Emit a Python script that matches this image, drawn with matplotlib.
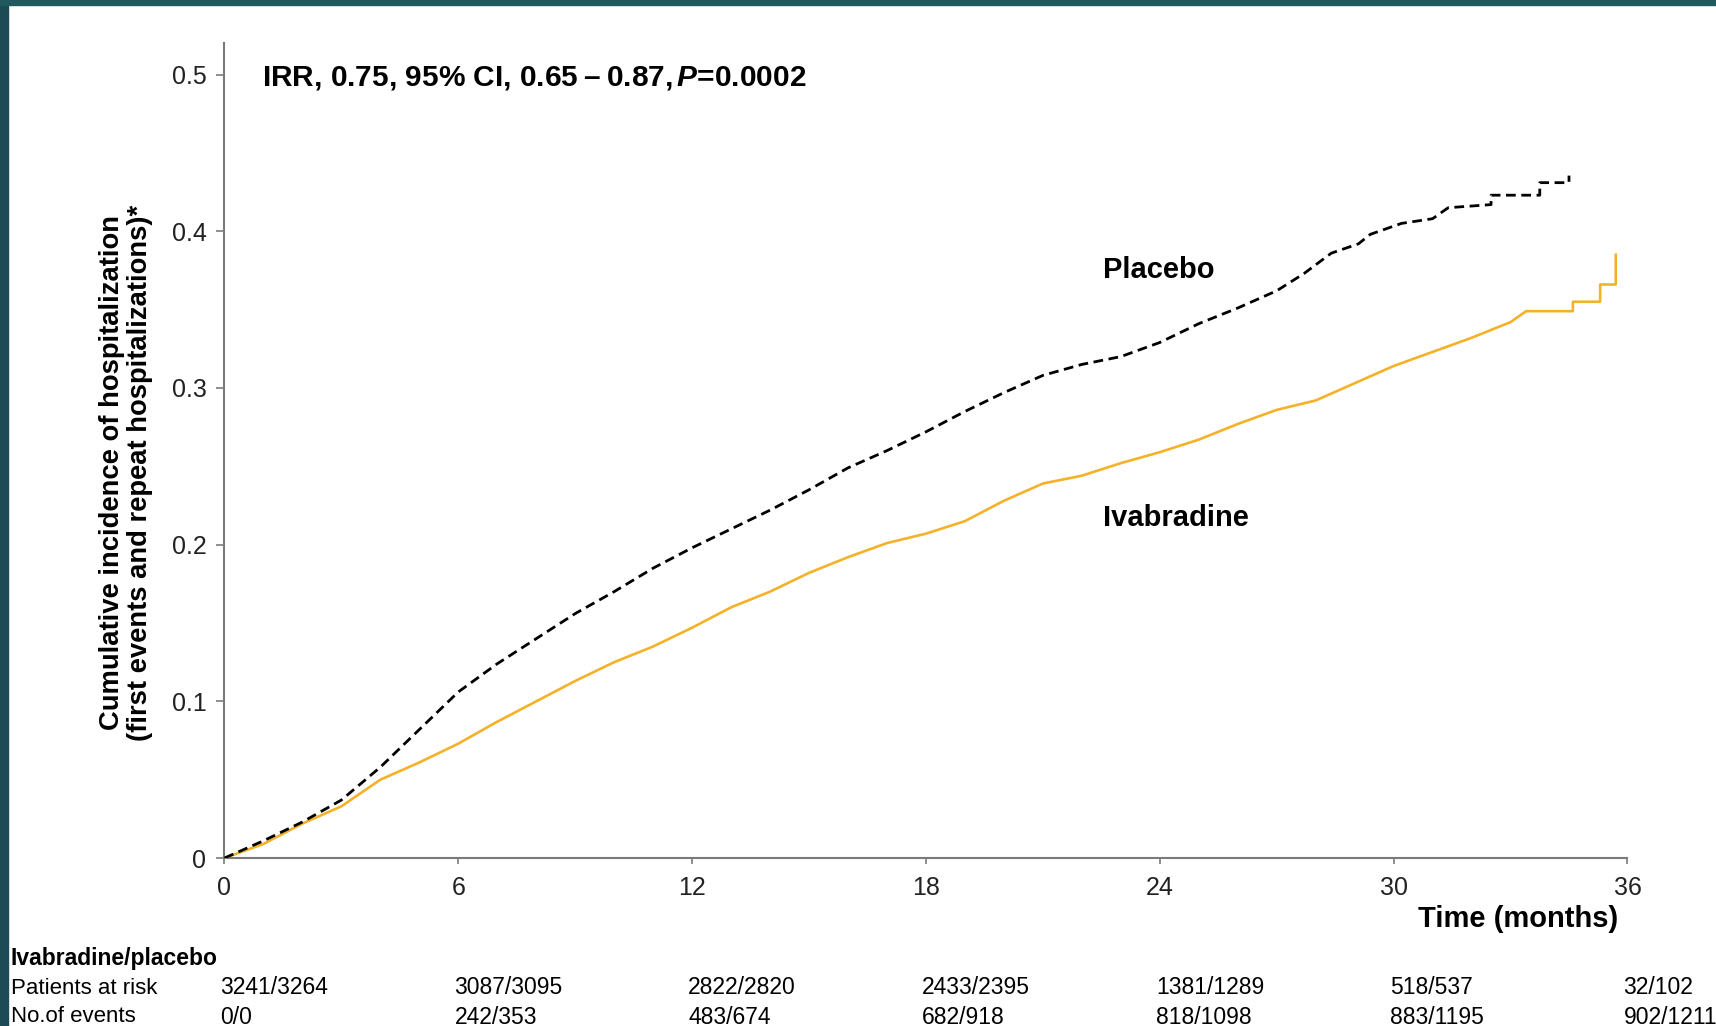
"""Cumulative incidence of hospitalization: ivabradine vs placebo"""

import matplotlib.pyplot as plt
from matplotlib.patches import Rectangle
from matplotlib.transforms import blended_transform_factory

plt.rcParams["font.family"] = ["Liberation Sans", "DejaVu Sans"]
plt.rcParams["mathtext.fontset"] = "custom"
plt.rcParams["mathtext.rm"] = "Liberation Sans:bold"
plt.rcParams["mathtext.it"] = "Liberation Sans:italic:bold"

# curves (months, cumulative incidence)
placebo_t = [0, 1, 2, 3, 4, 5, 6, 7, 8, 9, 10, 11, 12, 13, 14, 15, 16, 17, 18,
             19, 20, 21, 22, 23, 24, 25, 26, 27, 27.7, 28.4, 29.1, 29.4, 30.2,
             31.0, 31.4, 32.5, 32.5, 33.75, 33.75, 34.5, 34.5]
placebo_y = [0, 0.011, 0.023, 0.037, 0.058, 0.082, 0.106, 0.124, 0.140, 0.156,
             0.170, 0.185, 0.198, 0.210, 0.222, 0.235, 0.249, 0.260, 0.272,
             0.285, 0.297, 0.308, 0.315, 0.320, 0.329, 0.341, 0.351, 0.362,
             0.373, 0.386, 0.392, 0.398, 0.405, 0.408, 0.415, 0.417, 0.423,
             0.423, 0.431, 0.431, 0.4355]

ivabradine_t = [0, 1, 2, 3, 4, 5, 6, 7, 8, 9, 10, 11, 12, 13, 14, 15, 16, 17,
                18, 19, 20, 21, 22, 23, 24, 25, 26, 27, 28, 29, 30, 31, 32, 33,
                33.4, 34.6, 34.6, 35.3, 35.3, 35.7, 35.7]
ivabradine_y = [0, 0.009, 0.022, 0.033, 0.050, 0.061, 0.073, 0.087, 0.100,
                0.113, 0.125, 0.135, 0.147, 0.160, 0.170, 0.182, 0.192, 0.201,
                0.207, 0.215, 0.228, 0.239, 0.244, 0.252, 0.259, 0.267, 0.277,
                0.286, 0.292, 0.303, 0.314, 0.323, 0.332, 0.342, 0.349, 0.349,
                0.355, 0.355, 0.366, 0.366, 0.385]

table_months = [0, 6, 12, 18, 24, 30, 36]
at_risk = ["3241/3264", "3087/3095", "2822/2820", "2433/2395", "1381/1289",
           "518/537", "32/102"]
events = ["0/0", "242/353", "483/674", "682/918", "818/1098", "883/1195",
          "902/1211"]

fig = plt.figure(figsize=(17.16, 10.26), dpi=100)
fig.patch.set_facecolor("white")

# dark slide border on left and top
fig.patches.append(Rectangle((0, 0), 8 / 1716, 1, transform=fig.transFigure,
                             color="#1c4b56", zorder=0))
fig.patches.append(Rectangle((0, 1 - 5 / 1026), 1, 5 / 1026,
                             transform=fig.transFigure, color="#22595f", zorder=0))

ax = fig.add_axes([0.1308, 0.1637, 0.8176, 0.7942])

ax.plot(ivabradine_t, ivabradine_y, color="#f5b228", lw=1.9, zorder=3)
ax.plot(placebo_t, placebo_y, color="black", lw=2.0, dashes=(3.5, 2), zorder=4)

ax.set_xlim(0, 36)
ax.set_ylim(0, 0.52)
ax.set_xticks(table_months)
ax.set_yticks([0, 0.1, 0.2, 0.3, 0.4, 0.5])
ax.set_yticklabels(["0", "0.1", "0.2", "0.3", "0.4", "0.5"])

for side in ["top", "right"]:
    ax.spines[side].set_visible(False)
for side in ["left", "bottom"]:
    ax.spines[side].set_color("#7a7a7a")
    ax.spines[side].set_linewidth(1.5)

ax.tick_params(axis="y", direction="out", length=6, width=1.2, color="#7a7a7a",
               pad=7, labelsize=18, labelcolor="#222222")
ax.tick_params(axis="x", direction="out", length=4, width=1.2, color="#7a7a7a",
               pad=9, labelsize=18, labelcolor="#222222")

ax.text(0.96, 0.498,
        "IRR, 0.75, 95% CI, 0.65\u2009\u2013\u20090.87,$\\,\\mathit{P}$=0.0002",
        fontsize=21.5, fontweight="bold", va="center", ha="left")
ax.text(22.55, 0.375, "Placebo", fontsize=21, fontweight="bold", va="center")
ax.text(22.55, 0.217, "Ivabradine", fontsize=21, fontweight="bold",
        va="center")

fig.text(126 / 1716, 1 - 473 / 1026,
         "Cumulative incidence of hospitalization\n"
         "(first events and repeat hospitalizations)*",
         rotation=90, ha="center", va="center", fontsize=19.7,
         fontweight="bold", linespacing=1.1)

fig.text(1618 / 1716, 1 - 919 / 1026, "Time (months)", ha="right",
         va="center", fontsize=21, fontweight="bold")

# numbers at risk table
trans = blended_transform_factory(ax.transData, fig.transFigure)
fig.text(11 / 1716, 1 - 959 / 1026, "Ivabradine/placebo", fontsize=16.5,
         fontweight="bold", va="center")
fig.text(11 / 1716, 1 - 988 / 1026, "Patients at risk", fontsize=16,
         va="center")
fig.text(11 / 1716, 1 - 1017 / 1026, "No.of events", fontsize=16,
         va="center")
for m, r, e in zip(table_months, at_risk, events):
    ax.text(m - 0.1, 1 - 988 / 1026, r, transform=trans, fontsize=16.5,
            va="center", ha="left", clip_on=False)
    ax.text(m - 0.1, 1 - 1017 / 1026, e, transform=trans, fontsize=16.5,
            va="center", ha="left", clip_on=False)

fig.savefig("out.png", dpi=100)
